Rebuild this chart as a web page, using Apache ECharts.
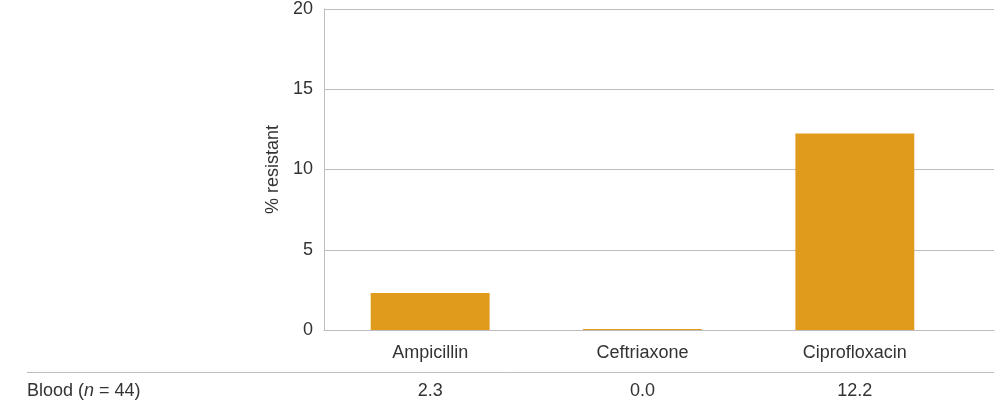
<!DOCTYPE html>
<html><head><meta charset="utf-8">
<script src="https://cdn.jsdelivr.net/npm/echarts@6/dist/echarts.min.js"></script>
<style>html,body{margin:0;padding:0;background:#fff}#c{width:1004px;height:414px}</style>
</head><body><div id="c"></div>
<script>
const categories = ['Ampicillin', 'Ceftriaxone', 'Ciprofloxacin'];
const values = [2.3, 0.0, 12.2];
const rowLabelText = 'Blood';
const rowN = 44;
const yTicks = [0, 5, 10, 15, 20];
const yAxisName = '% resistant';

const FONT = 'Liberation Sans, Arial, sans-serif';
const TXT = '#333';
const chart = echarts.init(document.getElementById('c'));
chart.setOption({
  animation: false,
  grid: [
    {left: 324, right: 10, top: 8, bottom: 84},
    {left: 324, right: 43, top: 8, bottom: 84}
  ],
  xAxis: [
    {gridIndex: 0, type: 'category', data: categories, axisLine: {show: true, lineStyle: {color: '#bdbdbd'}},
     axisTick: {show: false}, axisLabel: {show: false}},
    {gridIndex: 1, type: 'category', data: categories, axisLine: {show: false}, axisTick: {show: false},
     axisLabel: {color: TXT, fontSize: 18, fontFamily: FONT, margin: 14}},
    {gridIndex: 1, type: 'category', position: 'bottom', offset: 44, data: values.map(v => v.toFixed(1)),
     axisLine: {show: false}, axisTick: {show: false},
     axisLabel: {color: TXT, fontSize: 18, fontFamily: FONT, margin: 8}}
  ],
  yAxis: [
    {gridIndex: 0, type: 'value', min: yTicks[0], max: yTicks[yTicks.length-1], interval: 5,
     axisLine: {show: true, lineStyle: {color: '#bdbdbd'}}, axisTick: {show: false},
     splitLine: {lineStyle: {color: '#bdbdbd'}},
     axisLabel: {color: TXT, fontSize: 18, fontFamily: FONT, margin: 11},
     name: yAxisName, nameLocation: 'middle', nameGap: 42, nameRotate: 90,
     nameTextStyle: {color: TXT, fontSize: 18, fontFamily: FONT}},
    {gridIndex: 1, type: 'value', min: 0, max: 20, show: false}
  ],
  series: [{
    type: 'bar', xAxisIndex: 1, yAxisIndex: 1, data: values, barWidth: '56%', barMinHeight: 1,
    itemStyle: {color: '#E09A1C'}
  }],
  graphic: [
    {type: 'line', shape: {x1: 27, y1: 372.5, x2: 994, y2: 372.5}, style: {stroke: '#bdbdbd', lineWidth: 1}},
    {type: 'text', left: 27, top: 382, style: {
      text: rowLabelText + ' ({i|n} = ' + rowN + ')', fill: TXT, fontSize: 18, fontFamily: FONT,
      rich: {i: {fontStyle: 'italic', fontSize: 18, fontFamily: FONT, fill: TXT}}
    }}
  ]
});
</script></body></html>
